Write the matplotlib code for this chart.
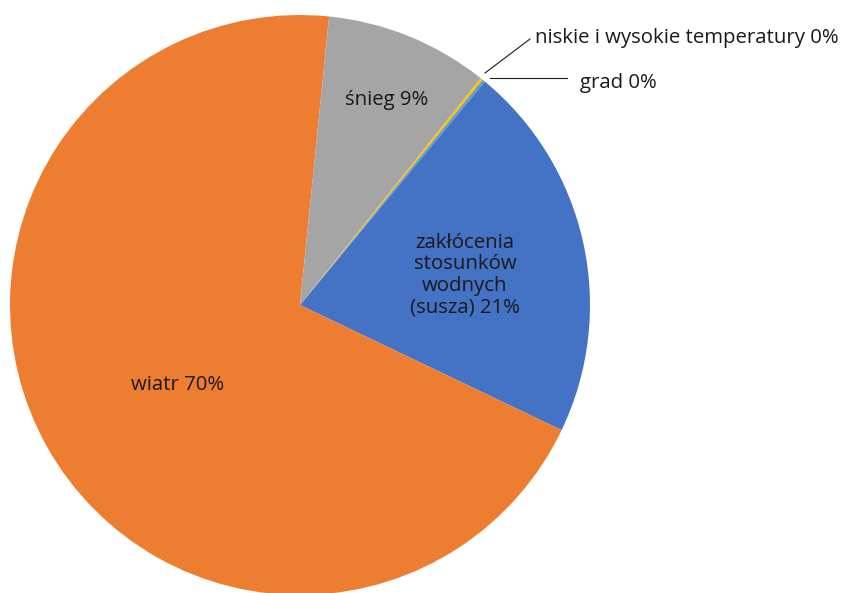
import matplotlib.pyplot as plt

# udział przyczyn szkód
labels = ['zakłócenia\nstosunków\nwodnych\n(susza)', 'wiatr', 'śnieg',
          'niskie i wysokie temperatury', 'grad']
shares = [21.1, 69.5, 9.1, 0.15, 0.15]
colors = ['#4472C4', '#ED7D31', '#A5A5A5', '#FFC000', '#5B9BD5']

plt.rcParams['font.family'] = ['Open Sans', 'DejaVu Sans']

fig = plt.figure(figsize=(8.45, 5.93), dpi=100)
ax = fig.add_axes([0, 0, 1, 1])
ax.pie(shares, colors=colors, center=(300, 288), radius=290,
       startangle=50.4, counterclock=False)
ax.set_xlim(0, 845)
ax.set_ylim(0, 593)
ax.set_aspect('equal')
ax.axis('off')

total = sum(shares)
pct = [f'{l} {v / total * 100:.0f}%' for l, v in zip(labels, shares)]

fs = 14.7
tc = '#1a1a1a'
ax.text(465, 318, pct[0], ha='center', va='center', fontsize=fs,
        linespacing=1.1, color=tc)
ax.text(178, 208, pct[1], ha='center', va='center', fontsize=fs, color=tc)
ax.text(387, 493, pct[2], ha='center', va='center', fontsize=fs, color=tc)
ax.text(535, 555, pct[3], ha='left', va='center', fontsize=fs, color=tc)
ax.text(580, 510, pct[4], ha='left', va='center', fontsize=fs, color=tc)

# linie odniesienia dla małych wycinków
ax.plot([485, 530], [520, 554], color=tc, lw=0.8)
ax.plot([490, 567], [515, 515], color=tc, lw=0.8)

plt.savefig('out.png', dpi=100)
